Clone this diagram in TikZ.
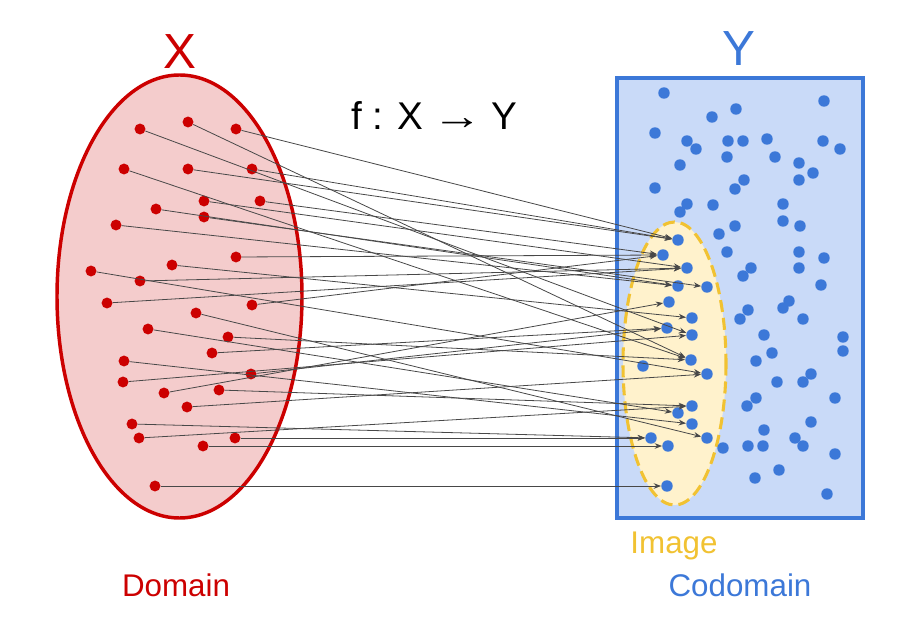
\documentclass[tikz,border=0pt]{standalone}
\usepackage{fontspec}
\setmainfont{Liberation Sans}
\usetikzlibrary{arrows.meta}
\definecolor{domfill}{HTML}{F4CCCC}
\definecolor{domline}{HTML}{CC0000}
\definecolor{codfill}{HTML}{C9DAF8}
\definecolor{codline}{HTML}{3C78D8}
\definecolor{imgfill}{HTML}{FFF2CC}
\definecolor{imgline}{HTML}{F1C232}
\definecolor{arrowgray}{HTML}{484848}
\begin{document}
\begin{tikzpicture}[x=0.75pt,y=-0.75pt,
  reddot/.style={circle,fill=domline,inner sep=0pt,minimum size=8.2pt},
  bluedot/.style={circle,fill=codline,inner sep=0pt,minimum size=8.6pt},
  maparrow/.style={draw=arrowgray,line width=0.6pt,-{Stealth[length=5.5pt,width=4.2pt]}},
  biglabel/.style={font=\fontsize{37}{40}\selectfont},
  caption/.style={font=\fontsize{23.5}{26}\selectfont}]
\useasboundingbox (0,0) rectangle (921,634);
% codomain box
\draw[codline,fill=codfill,line width=2.3pt] (617,78) rectangle (863,518);
% image ellipse
\draw[imgline,fill=imgfill,line width=2.3pt,dash pattern=on 9pt off 4.5pt] (674.5,363.5) ellipse [x radius=51.5, y radius=141.5];
% domain ellipse
\draw[domline,fill=domfill,line width=2.6pt] (179.5,296.5) ellipse [x radius=122.5, y radius=221.5];
% labels
\node[biglabel,text=domline] (xlab) at (180,52) {X};
\node[biglabel,text=codline] (ylab) at (739,49) {Y};
\node[font=\fontsize{29}{32}\selectfont] (flab) at (434,116) {f : X\kern-1.5pt{} \scalebox{1.3}[1]{→} \kern-1.5pt Y};
\node[caption,text=imgline] (imglab) at (674,546) {Image};
\node[caption,text=domline] (domlab) at (176,585) {Domain};
\node[caption,text=codline] (codlab) at (740,585) {Codomain};
% red dots (domain)
\foreach \n/\px/\py in {1/140/129,2/188/122,3/236/129,4/124/169,5/188/169,6/252/169,
  7/204/201,8/260/201,9/156/209,10/204/217,11/116/225,12/236/257,13/172/265,
  14/91/271,15/140/281,16/107/303,17/252/305,18/196/313,19/148/329,20/228/337,
  21/212/353,22/124/361,23/251/374,24/123/382,25/164/393,26/219/390,27/187/407,
  28/132/424,29/139/438,30/235/438,31/203/446,32/155/486}
  \node[reddot] (r\n) at (\px,\py) {};
% blue dots in image
\foreach \n/\px/\py in {1/678/240,2/663/255,3/687/268,4/678/286,5/707/287,6/669/302,
  7/692/318,8/667/328,9/692/335,10/691/360,11/707/374,12/692/406,13/678/413,
  14/692/424,15/707/438,16/651/438,17/668/446,18/667/486,19/643/366}
  \node[bluedot] (b\n) at (\px,\py) {};
% other blue dots in codomain
\foreach \p [count=\i] in {(664,93),(824,101),(712,117),(736,109),(655,133),(687,141),
  (696,149),(728,141),(743,141),(767,139),(823,141),(840,149),(727,157),(775,157),
  (799,163),(680,165),(813,173),(799,180),(744,180),(735,189),(655,188),(687,204),
  (680,212),(713,205),(783,204),(783,221),(800,226),(735,226),(719,234),(727,252),
  (799,252),(824,258),(751,268),(743,276),(799,268),(821,285),(789,301),(783,308),
  (748,310),(740,319),(803,319),(764,335),(843,337),(843,351),(772,353),(756,361),
  (811,374),(803,382),(777,382),(835,398),(756,398),(747,406),(811,422),(764,430),
  (795,438),(803,446),(723,448),(748,446),(763,446),(835,454),(779,470),(755,478),
  (827,494)}
  \node[bluedot] (c\i) at \p {};
% mapping arrows
\foreach \s/\t in {1/9,2/10,3/1,4/10,5/1,6/1,7/3,8/2,9/4,10/5,11/4,12/2,13/7,14/11,
  15/3,16/3,17/2,18/15,19/13,20/10,21/8,22/14,23/8,24/9,25/6,26/12,27/11,28/16,
  29/12,30/16,31/17,32/18}
  \draw[maparrow] (r\s) -- (b\t);
\end{tikzpicture}
\end{document}
